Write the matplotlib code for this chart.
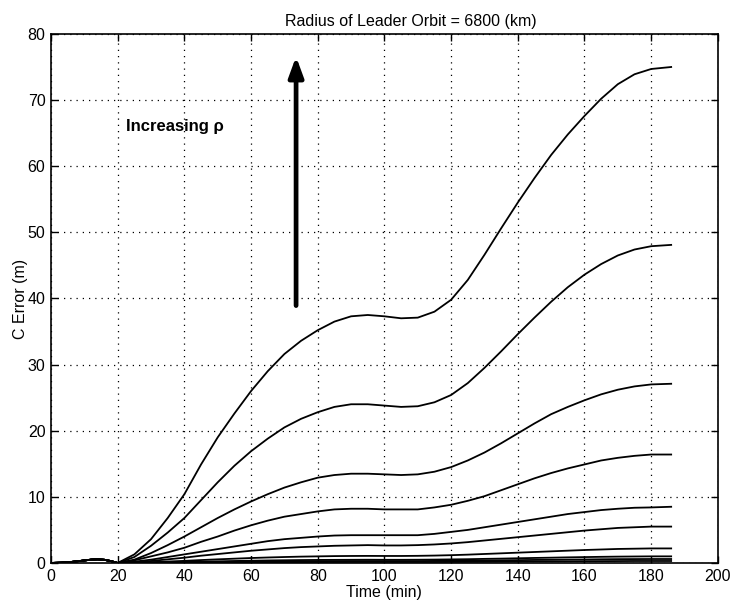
import matplotlib
matplotlib.use('Agg')
import matplotlib.pyplot as plt

plt.rcParams['font.family'] = ['Liberation Sans', 'DejaVu Sans']

# small bump before t = 20 min (shared by every curve)
t_pre = [0, 3, 6, 9, 12, 14, 16, 18]
bump = [0, 0.05, 0.15, 0.32, 0.5, 0.55, 0.48, 0.28]

# main part, t = 20 ... 180 every 5 min, then 186
t_main = [20, 25, 30, 35, 40, 45, 50, 55, 60, 65, 70, 75, 80, 85, 90, 95, 100,
          105, 110, 115, 120, 125, 130, 135, 140, 145, 150, 155, 160, 165, 170,
          175, 180, 186]

c1 = [0, 1.3, 3.6, 6.8, 10.4, 14.9, 19.0, 22.6, 26.0, 29.0, 31.6, 33.6, 35.2,
      36.5, 37.3, 37.5, 37.3, 37.0, 37.1, 38.0, 39.8, 42.8, 46.6, 50.6, 54.5,
      58.2, 61.7, 64.8, 67.6, 70.2, 72.4, 73.9, 74.7, 75.0]
c2 = [0, 0.9, 2.6, 4.6, 6.8, 9.5, 12.2, 14.7, 16.9, 18.8, 20.5, 21.8, 22.8,
      23.6, 24.0, 24.0, 23.8, 23.6, 23.7, 24.3, 25.4, 27.2, 29.5, 32.0, 34.6,
      37.1, 39.5, 41.7, 43.6, 45.2, 46.5, 47.4, 47.9, 48.1]
c3 = [0, 0.5, 1.5, 2.7, 4.0, 5.4, 6.8, 8.1, 9.3, 10.4, 11.4, 12.2, 12.9, 13.3,
      13.5, 13.5, 13.4, 13.3, 13.4, 13.8, 14.5, 15.5, 16.7, 18.1, 19.6, 21.1,
      22.5, 23.6, 24.6, 25.5, 26.2, 26.7, 27.0, 27.1]
c4 = [0, 0.4, 1.0, 1.6, 2.3, 3.2, 4.0, 4.9, 5.7, 6.4, 7.0, 7.4, 7.8, 8.1, 8.2,
      8.2, 8.1, 8.1, 8.1, 8.4, 8.8, 9.4, 10.1, 11.0, 11.9, 12.8, 13.6, 14.3,
      14.9, 15.5, 15.9, 16.2, 16.4, 16.4]
c5 = [0, 0.2, 0.5, 0.9, 1.3, 1.7, 2.1, 2.5, 2.9, 3.3, 3.6, 3.8, 4.0, 4.15, 4.2,
      4.2, 4.2, 4.2, 4.2, 4.4, 4.7, 5.0, 5.4, 5.8, 6.2, 6.6, 7.0, 7.4, 7.7, 8.0,
      8.2, 8.35, 8.4, 8.5]
c6 = [0, 0.1, 0.3, 0.55, 0.8, 1.1, 1.35, 1.6, 1.85, 2.05, 2.25, 2.4, 2.5, 2.6,
      2.65, 2.7, 2.65, 2.65, 2.7, 2.8, 2.95, 3.15, 3.4, 3.65, 3.9, 4.15, 4.4,
      4.65, 4.9, 5.1, 5.3, 5.4, 5.5, 5.5]
c7 = [0, 0.05, 0.12, 0.22, 0.32, 0.44, 0.55, 0.65, 0.75, 0.83, 0.9, 0.96, 1.0,
      1.04, 1.06, 1.07, 1.06, 1.06, 1.08, 1.12, 1.18, 1.26, 1.36, 1.46, 1.56,
      1.66, 1.76, 1.86, 1.96, 2.04, 2.12, 2.16, 2.2, 2.2]
c8 = [0, 0.02, 0.06, 0.1, 0.15, 0.2, 0.25, 0.3, 0.34, 0.38, 0.41, 0.44, 0.46,
      0.47, 0.48, 0.49, 0.48, 0.48, 0.49, 0.51, 0.54, 0.57, 0.62, 0.66, 0.71,
      0.76, 0.8, 0.85, 0.89, 0.93, 0.96, 0.98, 1.0, 1.0]
c9 = [0, 0.01, 0.04, 0.06, 0.09, 0.12, 0.15, 0.18, 0.2, 0.23, 0.25, 0.26, 0.28,
      0.28, 0.29, 0.29, 0.29, 0.29, 0.29, 0.31, 0.32, 0.34, 0.37, 0.4, 0.43,
      0.46, 0.48, 0.51, 0.53, 0.56, 0.58, 0.59, 0.6, 0.6]
c10 = [0, 0.01, 0.02, 0.03, 0.05, 0.06, 0.08, 0.09, 0.1, 0.11, 0.12, 0.13, 0.14,
       0.14, 0.15, 0.15, 0.15, 0.15, 0.15, 0.15, 0.16, 0.17, 0.18, 0.2, 0.21,
       0.23, 0.24, 0.25, 0.27, 0.28, 0.29, 0.3, 0.3, 0.3]

curves = [c1, c2, c3, c4, c5, c6, c7, c8, c9, c10]

fig = plt.figure(figsize=(7.34, 6.06), dpi=100)
ax = fig.add_subplot(111)
fig.subplots_adjust(left=0.0695, right=0.978, bottom=0.071, top=0.944)

for c in curves:
    ax.plot(t_pre + t_main, bump + c, color='k', linewidth=1.3)

ax.set_xlim(0, 200)
ax.set_ylim(0, 80)
ax.set_xticks(range(0, 201, 20))
ax.set_yticks(range(0, 81, 10))
ax.grid(True, color='k', linestyle=(0, (1, 4)), linewidth=0.9)
ax.tick_params(direction='in', top=True, right=True, length=5, width=1,
               labelsize=11.5, pad=4)
for s in ax.spines.values():
    s.set_linewidth(1.2)

ax.set_title('Radius of Leader Orbit = 6800 (km)', fontsize=11.5, pad=6, x=0.54)
ax.set_xlabel('Time (min)', fontsize=11.5, labelpad=1)
ax.set_ylabel('C Error (m)', fontsize=11.5)
ax.yaxis.set_label_coords(-0.034, 0.5)

# arrow and annotation
ax.annotate('', xy=(73.5, 77), xytext=(73.5, 38.5),
            arrowprops=dict(arrowstyle='-|>,head_length=0.6,head_width=0.22',
                            lw=3.4, color='k', mutation_scale=20))
ax.text(22.5, 66, 'Increasing ρ', fontsize=12, fontweight='bold',
        va='center', ha='left')

plt.savefig('out.png', dpi=100)
